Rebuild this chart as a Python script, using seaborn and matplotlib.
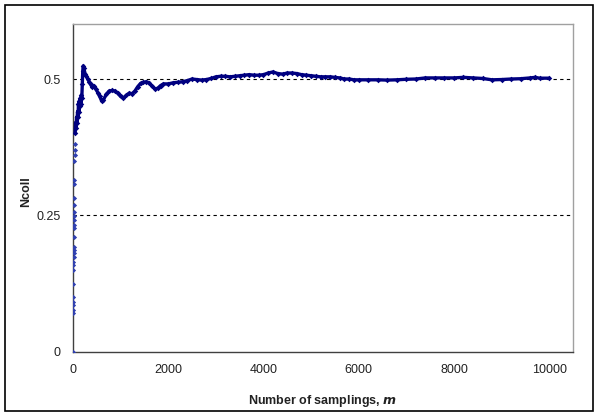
import matplotlib
matplotlib.use("Agg")
import matplotlib.pyplot as plt
import matplotlib.patches as mpatches
import seaborn as sns
import pandas as pd

# Early running-mean values (m very small, scattered at the axis)
early_m = [1, 2, 3, 4, 5, 6, 7, 8, 9, 10, 11, 12, 13, 14, 15, 16, 17, 18, 19, 20,
           22, 24, 26, 28, 30, 33, 36, 40]
early_v = [0.0, 0.071, 0.076, 0.086, 0.091, 0.10, 0.124, 0.149, 0.159, 0.164, 0.173,
           0.18, 0.186, 0.192, 0.21, 0.227, 0.232, 0.241, 0.249, 0.256, 0.269, 0.282,
           0.307, 0.315, 0.35, 0.36, 0.37, 0.38]

# Main converging curve
curve_m = [45, 55, 65, 75, 85, 95, 105, 115, 125, 135, 145, 155, 165, 175, 185, 195,
           205, 215, 230, 250, 280, 310, 340, 370, 400, 440, 480, 520, 560, 600, 640,
           700, 760, 820, 880, 940, 1000, 1060, 1120, 1180, 1240, 1300, 1360, 1420,
           1480, 1540, 1600, 1660, 1720, 1780, 1840, 1900, 2000, 2100, 2200, 2300,
           2400, 2500, 2600, 2700, 2800, 2900, 3000, 3100, 3200, 3300, 3400, 3500,
           3600, 3700, 3800, 3900, 4000, 4100, 4200, 4300, 4400, 4500, 4600, 4700,
           4800, 4900, 5000, 5100, 5200, 5300, 5400, 5500, 5600, 5700, 5800, 5900,
           6000, 6200, 6400, 6600, 6800, 7000, 7200, 7400, 7600, 7800, 8000, 8200,
           8400, 8600, 8800, 9000, 9200, 9400, 9600, 9700, 9800, 10000]
curve_v = [0.40, 0.42, 0.41, 0.43, 0.42, 0.44, 0.43, 0.455, 0.44, 0.46, 0.45, 0.465,
           0.455, 0.47, 0.465, 0.49, 0.515, 0.524, 0.52, 0.51, 0.505, 0.50, 0.495,
           0.49, 0.485, 0.487, 0.482, 0.475, 0.468, 0.46, 0.462, 0.472, 0.478, 0.479,
           0.478, 0.474, 0.468, 0.465, 0.47, 0.474, 0.473, 0.478, 0.486, 0.492, 0.494,
           0.495, 0.493, 0.487, 0.482, 0.483, 0.488, 0.491, 0.491, 0.493, 0.494,
           0.495, 0.497, 0.500, 0.499, 0.498, 0.499, 0.501, 0.504, 0.505, 0.505,
           0.504, 0.505, 0.506, 0.507, 0.508, 0.507, 0.507, 0.508, 0.511, 0.513,
           0.510, 0.509, 0.511, 0.511, 0.510, 0.508, 0.507, 0.506, 0.505, 0.504,
           0.504, 0.504, 0.503, 0.502, 0.500, 0.500, 0.4985, 0.4985, 0.4985, 0.4985,
           0.498, 0.4985, 0.4995, 0.500, 0.502, 0.502, 0.502, 0.502, 0.503, 0.502,
           0.501, 0.4985, 0.499, 0.500, 0.5005, 0.502, 0.503, 0.5015, 0.5015]

x_ticks = [0, 2000, 4000, 6000, 8000, 10000]
y_ticks = [0, 0.25, 0.5]
y_tick_labels = ["0", "0.25", "0.5"]

sns.set_style("white")
plt.rcParams["font.family"] = ["Liberation Sans", "DejaVu Sans"]

navy = "#000080"
fig = plt.figure(figsize=(6.0, 4.15), dpi=100)
ax = fig.add_axes([73 / 600, (415 - 351.5) / 415, 500 / 600, (351.5 - 24.5) / 415])

df_curve = pd.DataFrame({"m": curve_m, "v": curve_v})
df_early = pd.DataFrame({"m": early_m, "v": early_v})

sns.lineplot(data=df_curve, x="m", y="v", ax=ax, color=navy, linewidth=2.4,
             sort=False, zorder=3)
sns.scatterplot(data=df_curve, x="m", y="v", ax=ax, color=navy, marker="D",
                s=8, linewidth=0, zorder=4)
sns.scatterplot(data=df_early, x="m", y="v", ax=ax, color="#3040b0", marker="D",
                s=7, linewidth=0, zorder=4)

ax.set_xlim(0, 10500)
ax.set_ylim(0, 0.6)
ax.set_xticks(x_ticks)
ax.set_xticklabels([str(t) for t in x_ticks])
ax.set_yticks(y_ticks)
ax.set_yticklabels(y_tick_labels)

for y in [0.25, 0.5]:
    ax.axhline(y, color="black", linestyle=(0, (3, 3)), linewidth=0.8, zorder=1)

ax.tick_params(axis="both", direction="out", length=4, width=1, color="#404040",
               labelsize=9, labelcolor="#222222", pad=5)
for side in ["left", "bottom"]:
    ax.spines[side].set_color("#404040")
    ax.spines[side].set_linewidth(1.0)
for side in ["top", "right"]:
    ax.spines[side].set_color("#a0a0a0")
    ax.spines[side].set_linewidth(1.0)

ax.set_xlabel("Number of samplings, $\\mathbfit{m}$", fontsize=9, fontweight="bold",
              color="#222222", labelpad=12)
ax.set_ylabel("Ncoll", fontsize=9, fontweight="bold", color="#222222")
ax.yaxis.set_label_coords(-0.082, 0.49)

border = mpatches.Rectangle((5 / 600, 4 / 415), 588 / 600, 406 / 415,
                            transform=fig.transFigure, fill=False,
                            edgecolor="black", linewidth=1.2)
fig.patches.append(border)

fig.savefig("out.png", dpi=100)
